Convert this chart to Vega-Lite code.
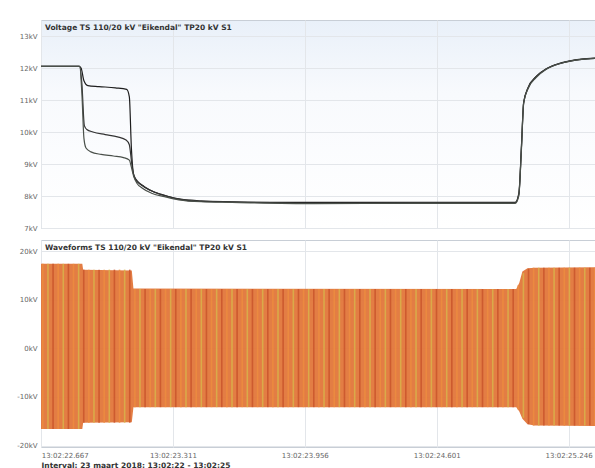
{
  "$schema": "https://vega.github.io/schema/vega-lite/v6.json",
  "padding": {"left": 16, "top": 19, "right": 0, "bottom": 0},
  "background": "white",
  "spacing": 7,
  "resolve": {"scale": {"color": "independent", "x": "independent", "y": "independent"}},
  "datasets": {
    "volt": [
      {"t":22.666,"ph":"L1","v":12.05},{"t":22.852,"ph":"L1","v":12.05},{"t":22.862,"ph":"L1","v":12.0},{"t":22.876,"ph":"L1","v":11.6},{"t":22.895,"ph":"L1","v":11.45},{"t":22.95,"ph":"L1","v":11.42},{"t":23.03,"ph":"L1","v":11.38},{"t":23.085,"ph":"L1","v":11.33},{"t":23.098,"ph":"L1","v":11.1},{"t":23.108,"ph":"L1","v":9.5},{"t":23.118,"ph":"L1","v":8.7},{"t":23.13,"ph":"L1","v":8.5},{"t":23.155,"ph":"L1","v":8.35},{"t":23.2,"ph":"L1","v":8.18},{"t":23.253,"ph":"L1","v":8.05},{"t":23.326,"ph":"L1","v":7.92},{"t":23.4,"ph":"L1","v":7.85},{"t":23.55,"ph":"L1","v":7.82},{"t":23.7,"ph":"L1","v":7.8},{"t":24.0,"ph":"L1","v":7.8},{"t":24.4,"ph":"L1","v":7.8},{"t":24.8,"ph":"L1","v":7.8},{"t":24.985,"ph":"L1","v":7.8},{"t":25.003,"ph":"L1","v":8.1},{"t":25.015,"ph":"L1","v":9.5},{"t":25.026,"ph":"L1","v":10.9},{"t":25.047,"ph":"L1","v":11.38},{"t":25.086,"ph":"L1","v":11.72},{"t":25.135,"ph":"L1","v":11.97},{"t":25.209,"ph":"L1","v":12.16},{"t":25.307,"ph":"L1","v":12.28},{"t":25.38,"ph":"L1","v":12.31},
      {"t":22.666,"ph":"L2","v":12.05},{"t":22.855,"ph":"L2","v":12.05},{"t":22.866,"ph":"L2","v":11.5},{"t":22.878,"ph":"L2","v":10.2},{"t":22.89,"ph":"L2","v":10.08},{"t":22.92,"ph":"L2","v":10.0},{"t":22.98,"ph":"L2","v":9.92},{"t":23.04,"ph":"L2","v":9.85},{"t":23.082,"ph":"L2","v":9.75},{"t":23.098,"ph":"L2","v":9.6},{"t":23.11,"ph":"L2","v":9.0},{"t":23.12,"ph":"L2","v":8.65},{"t":23.14,"ph":"L2","v":8.45},{"t":23.17,"ph":"L2","v":8.3},{"t":23.22,"ph":"L2","v":8.12},{"t":23.28,"ph":"L2","v":8.0},{"t":23.35,"ph":"L2","v":7.9},{"t":23.45,"ph":"L2","v":7.85},{"t":23.6,"ph":"L2","v":7.82},{"t":24.0,"ph":"L2","v":7.78},{"t":24.5,"ph":"L2","v":7.79},{"t":24.985,"ph":"L2","v":7.79},{"t":25.003,"ph":"L2","v":8.05},{"t":25.016,"ph":"L2","v":9.6},{"t":25.027,"ph":"L2","v":10.95},{"t":25.05,"ph":"L2","v":11.4},{"t":25.09,"ph":"L2","v":11.75},{"t":25.14,"ph":"L2","v":11.98},{"t":25.21,"ph":"L2","v":12.15},{"t":25.31,"ph":"L2","v":12.27},{"t":25.38,"ph":"L2","v":12.3},
      {"t":22.666,"ph":"L3","v":12.05},{"t":22.855,"ph":"L3","v":12.05},{"t":22.866,"ph":"L3","v":11.2},{"t":22.876,"ph":"L3","v":9.8},{"t":22.886,"ph":"L3","v":9.5},{"t":22.91,"ph":"L3","v":9.38},{"t":22.96,"ph":"L3","v":9.3},{"t":23.02,"ph":"L3","v":9.25},{"t":23.07,"ph":"L3","v":9.2},{"t":23.098,"ph":"L3","v":9.12},{"t":23.108,"ph":"L3","v":8.9},{"t":23.12,"ph":"L3","v":8.6},{"t":23.135,"ph":"L3","v":8.4},{"t":23.16,"ph":"L3","v":8.25},{"t":23.21,"ph":"L3","v":8.08},{"t":23.27,"ph":"L3","v":7.98},{"t":23.34,"ph":"L3","v":7.88},{"t":23.45,"ph":"L3","v":7.82},{"t":23.6,"ph":"L3","v":7.8},{"t":24.0,"ph":"L3","v":7.76},{"t":24.5,"ph":"L3","v":7.77},{"t":24.985,"ph":"L3","v":7.77},{"t":25.002,"ph":"L3","v":8.0},{"t":25.015,"ph":"L3","v":9.4},{"t":25.026,"ph":"L3","v":10.9},{"t":25.048,"ph":"L3","v":11.36},{"t":25.087,"ph":"L3","v":11.7},{"t":25.137,"ph":"L3","v":11.96},{"t":25.21,"ph":"L3","v":12.15},{"t":25.31,"ph":"L3","v":12.27},{"t":25.38,"ph":"L3","v":12.3}
    ],
    "env": [
      {"t":22.666,"hi":17.4,"lo":-16.6},{"t":22.868,"hi":17.4,"lo":-16.6},{"t":22.872,"hi":16.2,"lo":-15.3},{"t":23.11,"hi":16.0,"lo":-15.2},{"t":23.118,"hi":12.3,"lo":-12.1},{"t":24.99,"hi":12.2,"lo":-12.1},{"t":25.005,"hi":13.5,"lo":-13.0},{"t":25.02,"hi":15.8,"lo":-14.5},{"t":25.045,"hi":16.5,"lo":-15.6},{"t":25.08,"hi":16.6,"lo":-15.9},{"t":25.38,"hi":16.7,"lo":-16.0}
    ],
    "seg": [
      {"seg":1,"hi":17.4,"lo":-16.6},{"seg":2,"hi":16.2,"lo":-15.3},{"seg":3,"hi":12.2,"lo":-12.1},{"seg":4,"hi":13.0,"lo":-12.6},{"seg":5,"hi":15.5,"lo":-14.3},{"seg":6,"hi":16.4,"lo":-15.6},{"seg":7,"hi":16.6,"lo":-15.9}
    ],
    "stripes": [
      {"t":22.675,"p":"A","seg":1},{"t":22.7,"p":"B","seg":1},{"t":22.725,"p":"C","seg":1},{"t":22.75,"p":"A","seg":1},{"t":22.775,"p":"B","seg":1},{"t":22.8,"p":"C","seg":1},{"t":22.825,"p":"A","seg":1},{"t":22.85,"p":"B","seg":1},
      {"t":22.875,"p":"C","seg":2},{"t":22.9,"p":"A","seg":2},{"t":22.925,"p":"B","seg":2},{"t":22.95,"p":"C","seg":2},{"t":22.975,"p":"A","seg":2},{"t":23.0,"p":"B","seg":2},{"t":23.025,"p":"C","seg":2},{"t":23.05,"p":"A","seg":2},{"t":23.075,"p":"B","seg":2},{"t":23.1,"p":"C","seg":2},
      {"t":23.125,"p":"A","seg":3},{"t":23.15,"p":"B","seg":3},{"t":23.175,"p":"C","seg":3},{"t":23.2,"p":"A","seg":3},{"t":23.225,"p":"B","seg":3},{"t":23.25,"p":"C","seg":3},{"t":23.275,"p":"A","seg":3},{"t":23.3,"p":"B","seg":3},{"t":23.325,"p":"C","seg":3},{"t":23.35,"p":"A","seg":3},{"t":23.375,"p":"B","seg":3},{"t":23.4,"p":"C","seg":3},{"t":23.425,"p":"A","seg":3},{"t":23.45,"p":"B","seg":3},{"t":23.475,"p":"C","seg":3},{"t":23.5,"p":"A","seg":3},{"t":23.525,"p":"B","seg":3},{"t":23.55,"p":"C","seg":3},{"t":23.575,"p":"A","seg":3},{"t":23.6,"p":"B","seg":3},{"t":23.625,"p":"C","seg":3},{"t":23.65,"p":"A","seg":3},{"t":23.675,"p":"B","seg":3},{"t":23.7,"p":"C","seg":3},{"t":23.725,"p":"A","seg":3},{"t":23.75,"p":"B","seg":3},{"t":23.775,"p":"C","seg":3},{"t":23.8,"p":"A","seg":3},{"t":23.825,"p":"B","seg":3},{"t":23.85,"p":"C","seg":3},{"t":23.875,"p":"A","seg":3},{"t":23.9,"p":"B","seg":3},{"t":23.925,"p":"C","seg":3},{"t":23.95,"p":"A","seg":3},{"t":23.975,"p":"B","seg":3},{"t":24.0,"p":"C","seg":3},{"t":24.025,"p":"A","seg":3},{"t":24.05,"p":"B","seg":3},{"t":24.075,"p":"C","seg":3},{"t":24.1,"p":"A","seg":3},{"t":24.125,"p":"B","seg":3},{"t":24.15,"p":"C","seg":3},{"t":24.175,"p":"A","seg":3},{"t":24.2,"p":"B","seg":3},{"t":24.225,"p":"C","seg":3},{"t":24.25,"p":"A","seg":3},{"t":24.275,"p":"B","seg":3},{"t":24.3,"p":"C","seg":3},{"t":24.325,"p":"A","seg":3},{"t":24.35,"p":"B","seg":3},{"t":24.375,"p":"C","seg":3},{"t":24.4,"p":"A","seg":3},{"t":24.425,"p":"B","seg":3},{"t":24.45,"p":"C","seg":3},{"t":24.475,"p":"A","seg":3},{"t":24.5,"p":"B","seg":3},{"t":24.525,"p":"C","seg":3},{"t":24.55,"p":"A","seg":3},{"t":24.575,"p":"B","seg":3},{"t":24.6,"p":"C","seg":3},{"t":24.625,"p":"A","seg":3},{"t":24.65,"p":"B","seg":3},{"t":24.675,"p":"C","seg":3},{"t":24.7,"p":"A","seg":3},{"t":24.725,"p":"B","seg":3},{"t":24.75,"p":"C","seg":3},{"t":24.775,"p":"A","seg":3},{"t":24.8,"p":"B","seg":3},{"t":24.825,"p":"C","seg":3},{"t":24.85,"p":"A","seg":3},{"t":24.875,"p":"B","seg":3},{"t":24.9,"p":"C","seg":3},{"t":24.925,"p":"A","seg":3},{"t":24.95,"p":"B","seg":3},{"t":24.975,"p":"C","seg":3},
      {"t":25.0,"p":"A","seg":4},{"t":25.025,"p":"B","seg":5},{"t":25.05,"p":"C","seg":6},
      {"t":25.075,"p":"A","seg":7},{"t":25.1,"p":"B","seg":7},{"t":25.125,"p":"C","seg":7},{"t":25.15,"p":"A","seg":7},{"t":25.175,"p":"B","seg":7},{"t":25.2,"p":"C","seg":7},{"t":25.225,"p":"A","seg":7},{"t":25.25,"p":"B","seg":7},{"t":25.275,"p":"C","seg":7},{"t":25.3,"p":"A","seg":7},{"t":25.325,"p":"B","seg":7},{"t":25.35,"p":"C","seg":7},{"t":25.375,"p":"A","seg":7}
    ]
  },
  "vconcat": [
    {
      "width": 555,
      "height": 208,
      "title": {"text": "Voltage TS 110/20 kV \"Eikendal\" TP20 kV S1", "anchor": "start", "frame": "group", "offset": -11, "dx": 4, "fontSize": 7.5, "fontWeight": "bold", "color": "#333333", "font": "DejaVu Sans"},
      "view": {"stroke": "#c8ced6", "fill": {"gradient": "linear", "x1": 0, "y1": 0, "x2": 0, "y2": 1, "stops": [{"offset": 0, "color": "#e9f0f9"}, {"offset": 0.35, "color": "#f8fafd"}, {"offset": 1, "color": "#ffffff"}]}},
      "data": {"name": "volt"},
      "mark": {"type": "line", "strokeWidth": 1.2, "interpolate": "monotone"},
      "encoding": {
        "x": {"field": "t", "type": "quantitative", "scale": {"domain": [22.666, 25.38], "nice": false, "zero": false},
              "axis": {"values": [22.667, 23.311, 23.956, 24.601, 25.246], "labels": false, "ticks": false, "domain": false, "title": null, "grid": true}},
        "y": {"field": "v", "type": "quantitative", "scale": {"domain": [7, 13.5], "nice": false, "zero": false},
              "axis": {"values": [7, 8, 9, 10, 11, 12, 13], "labelExpr": "datum.value + 'kV'", "title": null}},
        "color": {"field": "ph", "type": "nominal", "scale": {"domain": ["L1", "L2", "L3"], "range": ["#1e1e1e", "#333333", "#4a504a"]}, "legend": null}
      }
    },
    {
      "width": 555,
      "height": 207,
      "title": {"text": "Waveforms TS 110/20 kV \"Eikendal\" TP20 kV S1", "anchor": "start", "frame": "group", "offset": -11, "dx": 4, "fontSize": 7.5, "fontWeight": "bold", "color": "#333333", "font": "DejaVu Sans"},
      "view": {"stroke": "#c8ced6", "fill": "#ffffff"},
      "encoding": {
        "x": {"field": "t", "type": "quantitative", "scale": {"domain": [22.666, 25.38], "nice": false, "zero": false},
              "axis": {"values": [22.667, 23.311, 23.956, 24.601, 25.246], "labelExpr": "'13:02:' + format(datum.value, '.3f')", "grid": true, "ticks": false, "domain": false,
                       "title": "Interval: 23 maart 2018: 13:02:22 - 13:02:25", "titleAnchor": "start", "titleFontSize": 7.5, "titleFontWeight": "bold", "titleColor": "#333333", "titlePadding": 3, "titleFont": "DejaVu Sans", "labelPadding": 4}}
      },
      "layer": [
        {
          "data": {"name": "env"},
          "mark": {"type": "area", "color": "#e2763a", "opacity": 0.95},
          "encoding": {
            "y": {"field": "hi", "type": "quantitative", "scale": {"domain": [-20.3, 22.3], "nice": false, "zero": false},
                  "axis": {"values": [-20, -10, 0, 10, 20], "labelExpr": "datum.value + 'kV'", "title": null}},
            "y2": {"field": "lo"}
          }
        },
        {
          "data": {"name": "stripes"},
          "transform": [{"lookup": "seg", "from": {"data": {"name": "seg"}, "key": "seg", "fields": ["hi", "lo"]}}],
          "mark": {"type": "rule", "strokeWidth": 1.6, "opacity": 0.85},
          "encoding": {
            "y": {"field": "lo", "type": "quantitative"},
            "y2": {"field": "hi"},
            "color": {"field": "p", "type": "nominal", "scale": {"domain": ["A", "B", "C"], "range": ["#ec8c40", "#d8b24a", "#c9552c"]}, "legend": null}
          }
        }
      ]
    }
  ],
  "config": {
    "font": "DejaVu Sans",
    "axis": {"labelFont": "DejaVu Sans", "labelFontSize": 7, "labelColor": "#666666", "gridColor": "#e3e6ea", "domain": false, "ticks": false, "labelPadding": 4}
  }
}
